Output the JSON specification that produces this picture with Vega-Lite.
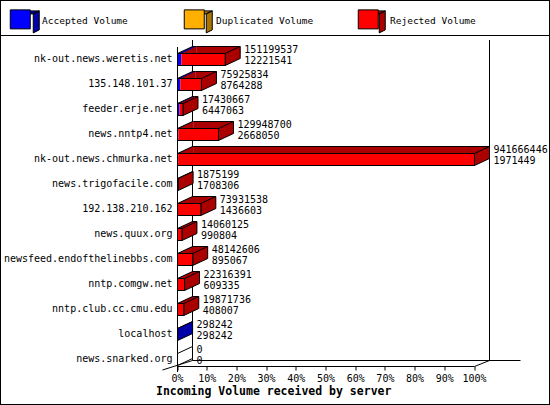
{
  "$schema": "https://vega.github.io/schema/vega-lite/v6.json",
  "width": 550,
  "height": 405,
  "autosize": {"type": "none"},
  "padding": 0,
  "background": "white",
  "data": {
    "values": [
      {"host": "nk-out.news.weretis.net", "total": 151199537, "accepted": 12221541, "duplicated": 0, "rejected": 138977996},
      {"host": "135.148.101.37", "total": 75925834, "accepted": 8764288, "duplicated": 0, "rejected": 67161546},
      {"host": "feeder.erje.net", "total": 17430667, "accepted": 6447063, "duplicated": 0, "rejected": 10983604},
      {"host": "news.nntp4.net", "total": 129948700, "accepted": 2668050, "duplicated": 0, "rejected": 127280650},
      {"host": "nk-out.news.chmurka.net", "total": 941666446, "accepted": 1971449, "duplicated": 0, "rejected": 939694997},
      {"host": "news.trigofacile.com", "total": 1875199, "accepted": 1708306, "duplicated": 0, "rejected": 166893},
      {"host": "192.138.210.162", "total": 73931538, "accepted": 1436603, "duplicated": 0, "rejected": 72494935},
      {"host": "news.quux.org", "total": 14060125, "accepted": 990804, "duplicated": 0, "rejected": 13069321},
      {"host": "newsfeed.endofthelinebbs.com", "total": 48142606, "accepted": 895067, "duplicated": 0, "rejected": 47247539},
      {"host": "nntp.comgw.net", "total": 22316391, "accepted": 609335, "duplicated": 0, "rejected": 21707056},
      {"host": "nntp.club.cc.cmu.edu", "total": 19871736, "accepted": 408007, "duplicated": 0, "rejected": 19463729},
      {"host": "localhost", "total": 298242, "accepted": 298242, "duplicated": 0, "rejected": 0},
      {"host": "news.snarked.org", "total": 0, "accepted": 0, "duplicated": 0, "rejected": 0}
    ]
  },
  "transform": [
    {"fold": ["accepted", "duplicated", "rejected"], "as": ["type", "volume"]},
    {"stack": "volume", "groupby": ["host"], "sort": [{"field": "type", "order": "ascending"}], "as": ["v0", "v1"]}
  ],
  "config": {
    "view": {"stroke": "black", "strokeWidth": 2},
    "font": "DejaVu Sans Mono",
    "axis": {
      "grid": false,
      "domainColor": "black",
      "tickColor": "black",
      "labelColor": "black",
      "labelFont": "DejaVu Sans Mono",
      "labelFontSize": 10,
      "titleColor": "black"
    },
    "text": {"font": "DejaVu Sans Mono", "fontSize": 10, "color": "black"}
  },
  "layer": [
    {
      "transform": [{"aggregate": [{"op": "count", "as": "n"}]}],
      "mark": {"type": "rule", "color": "black", "yOffset": -24},
      "encoding": {
        "y": {"datum": "nk-out.news.weretis.net", "type": "nominal"}
      }
    },
    {
      "transform": [{"aggregate": [{"op": "count", "as": "n"}]}],
      "mark": {"type": "rule", "color": "black", "xOffset": 15, "yOffset": -19.5, "y2Offset": 1},
      "encoding": {
        "x": {"datum": 0, "type": "quantitative"},
        "y": {"datum": "nk-out.news.weretis.net", "type": "nominal"},
        "y2": {"datum": "news.snarked.org"}
      }
    },
    {
      "transform": [{"aggregate": [{"op": "count", "as": "n"}]}],
      "mark": {"type": "rule", "color": "black", "xOffset": 15, "yOffset": -19.5, "y2Offset": 1},
      "encoding": {
        "x": {"datum": 941666446, "type": "quantitative"},
        "y": {"datum": "nk-out.news.weretis.net", "type": "nominal"},
        "y2": {"datum": "news.snarked.org"}
      }
    },
    {
      "transform": [{"aggregate": [{"op": "count", "as": "n"}]}],
      "mark": {"type": "rule", "color": "black", "xOffset": 15, "x2Offset": 46, "yOffset": 1},
      "encoding": {
        "x": {"datum": 0, "type": "quantitative"},
        "x2": {"datum": 941666446},
        "y": {"datum": "news.snarked.org", "type": "nominal"}
      }
    },
    {
      "transform": [{"filter": "datum.volume > 0"}],
      "mark": {"type": "bar", "height": 7, "xOffset": 15, "x2Offset": 15, "yOffset": -9.5},
      "encoding": {
        "x": {"field": "v0", "type": "quantitative"},
        "x2": {"field": "v1"},
        "y": {"field": "host", "type": "nominal"},
        "fill": {
          "field": "type",
          "type": "nominal",
          "scale": {"domain": ["accepted", "duplicated", "rejected"], "range": ["#0000a8", "#aa7400", "#aa0000"]},
          "legend": {
            "orient": "top-left",
            "offset": 18,
            "direction": "horizontal",
            "columns": 3,
            "gridAlign": "all",
            "columnPadding": 117,
            "padding": 0,
            "title": null,
            "symbolType": "M-10,-9L-4,-12H16L10,-9ZM10,-9L16,-12V7L10,10Z",
            "symbolSize": 4,
            "symbolOffset": 0.5,
            "symbolStrokeColor": "black",
            "symbolStrokeWidth": 1,
            "labelOffset": 39,
            "labelExpr": "''",
            "labelFontSize": 9.5
          }
        }
      }
    },
    {
      "transform": [{"filter": "datum.volume > 0"}],
      "mark": {"type": "point", "shape": "M0,-6L15,-13L15,-6Z", "size": 4, "filled": true, "opacity": 1, "strokeWidth": 0},
      "encoding": {
        "x": {"field": "v0", "type": "quantitative"},
        "y": {"field": "host", "type": "nominal"},
        "fill": {"field": "type", "type": "nominal"}
      }
    },
    {
      "transform": [{"filter": "datum.volume > 0"}],
      "mark": {"type": "rule", "color": "black", "xOffset": 15, "x2Offset": 15, "yOffset": -13},
      "encoding": {
        "x": {"field": "v0", "type": "quantitative"},
        "x2": {"field": "v1"},
        "y": {"field": "host", "type": "nominal"}
      }
    },
    {
      "transform": [{"filter": "datum.v0 == 0 && datum.volume > 0"}],
      "mark": {"type": "point", "shape": "M0,-6L15,-13", "size": 4, "filled": false, "stroke": "black", "strokeWidth": 1, "opacity": 1},
      "encoding": {
        "x": {"field": "v0", "type": "quantitative"},
        "y": {"field": "host", "type": "nominal"}
      }
    },
    {
      "transform": [
        {"filter": "datum.volume > 0 || datum.total == 0"},
        {"window": [{"op": "row_number", "as": "rk"}], "groupby": ["host"], "sort": [{"field": "type", "order": "descending"}]},
        {"filter": "datum.rk == 1"}
      ],
      "mark": {"type": "point", "shape": "M0,-6L15,-13L15,-1L0,6Z", "size": 4, "filled": true, "opacity": 1, "stroke": "black", "strokeWidth": 1},
      "encoding": {
        "x": {"field": "v1", "type": "quantitative"},
        "y": {"field": "host", "type": "nominal"},
        "fill": {"condition": {"test": "datum.total == 0", "value": "white"}, "field": "type", "type": "nominal"}
      }
    },
    {
      "transform": [{"filter": "datum.volume > 0"}],
      "mark": {"type": "bar", "height": 12},
      "encoding": {
        "x": {
          "field": "v0",
          "type": "quantitative",
          "scale": {"type": "linear", "domain": [0, 941666446], "range": [177.5, 474.5], "nice": false},
          "axis": {
            "orient": "bottom",
            "offset": -38.5,
            "translate": 0,
            "values": [0, 94166644.6, 188333289.2, 282499933.8, 376666578.4, 470833223, 564999867.6, 659166512.2, 753333156.8, 847499801.4, 941666446],
            "labelExpr": "round(datum.value / 9416664.46) + '%'",
            "labelFlush": false,
            "labelOverlap": false,
            "tickSize": 4,
            "labelPadding": 3,
            "title": "Incoming Volume received by server",
            "titleFont": "DejaVu Sans Mono",
            "titleFontSize": 11.5,
            "titleFontWeight": "bold",
            "titleX": 156,
            "titleY": 25.5,
            "titleAlign": "left",
            "titleAnchor": null,
            "titleBaseline": "middle"
          }
        },
        "x2": {"field": "v1"},
        "y": {
          "field": "host",
          "type": "nominal",
          "scale": {
            "type": "band",
            "domain": ["nk-out.news.weretis.net", "135.148.101.37", "feeder.erje.net", "news.nntp4.net", "nk-out.news.chmurka.net", "news.trigofacile.com", "192.138.210.162", "news.quux.org", "newsfeed.endofthelinebbs.com", "nntp.comgw.net", "nntp.club.cc.cmu.edu", "localhost", "news.snarked.org"],
            "range": [47, 372],
            "paddingInner": 0,
            "paddingOuter": 0
          },
          "axis": {
            "orient": "left",
            "offset": -177.5,
            "translate": 0,
            "ticks": false,
            "labelPadding": 5,
            "title": null
          }
        },
        "color": {
          "field": "type",
          "type": "nominal",
          "scale": {"domain": ["accepted", "duplicated", "rejected"], "range": ["#0000ff", "#ffb000", "#ff0000"]},
          "legend": {
            "orient": "none",
            "legendX": 0,
            "legendY": 14,
            "direction": "horizontal",
            "columns": 3,
            "gridAlign": "all",
            "columnPadding": 34,
            "padding": 0,
            "title": null,
            "symbolType": "M-10,-9H10V10H-10Z",
            "symbolSize": 4,
            "symbolOffset": 15.5,
            "symbolStrokeColor": "black",
            "symbolStrokeWidth": 1,
            "labelOffset": 17,
            "labelFont": "DejaVu Sans Mono",
            "labelFontSize": 9.5,
            "labelColor": "black",
            "labelExpr": "datum.label == 'accepted' ? 'Accepted Volume' : datum.label == 'duplicated' ? 'Duplicated Volume' : 'Rejected Volume'",
            "encode": {"labels": {"update": {"dy": {"value": 2}}}}
          }
        }
      }
    },
    {
      "transform": [{"filter": "datum.type == 'rejected'"}],
      "mark": {"type": "bar", "height": 12, "fillOpacity": 0, "stroke": "black", "strokeWidth": 1},
      "encoding": {
        "x": {"field": "total", "type": "quantitative"},
        "y": {"field": "host", "type": "nominal"}
      }
    },
    {
      "transform": [{"filter": "datum.type == 'rejected'"}],
      "mark": {"type": "text", "align": "left", "baseline": "middle", "dx": 19, "dy": -10},
      "encoding": {
        "x": {"field": "total", "type": "quantitative"},
        "y": {"field": "host", "type": "nominal"},
        "text": {"field": "total", "type": "quantitative", "format": "d"}
      }
    },
    {
      "transform": [{"filter": "datum.type == 'rejected'"}],
      "mark": {"type": "text", "align": "left", "baseline": "middle", "dx": 19, "dy": 1},
      "encoding": {
        "x": {"field": "total", "type": "quantitative"},
        "y": {"field": "host", "type": "nominal"},
        "text": {"field": "accepted", "type": "quantitative", "format": "d"}
      }
    },
    {
      "transform": [{"aggregate": [{"op": "count", "as": "n"}]}],
      "mark": {"type": "point", "shape": "M-15,10.5L15,1", "size": 4, "filled": false, "stroke": "black", "strokeWidth": 1, "opacity": 1},
      "encoding": {
        "x": {"datum": 0, "type": "quantitative"},
        "y": {"datum": "news.snarked.org", "type": "nominal"}
      }
    },
    {
      "transform": [{"aggregate": [{"op": "count", "as": "n"}]}],
      "mark": {"type": "point", "shape": "M0,7L15,1", "size": 4, "filled": false, "stroke": "black", "strokeWidth": 1, "opacity": 1},
      "encoding": {
        "x": {"datum": 941666446, "type": "quantitative"},
        "y": {"datum": "news.snarked.org", "type": "nominal"}
      }
    }
  ]
}
